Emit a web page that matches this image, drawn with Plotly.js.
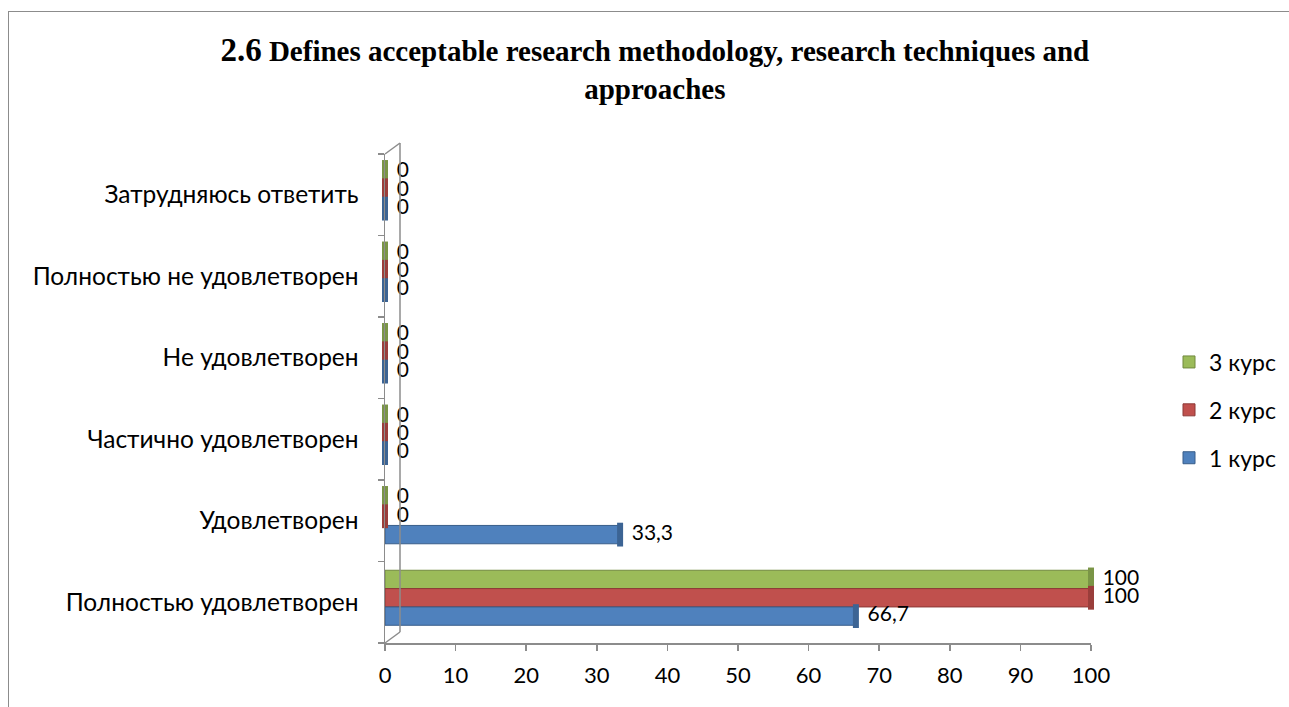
<!DOCTYPE html>
<html>
<head>
<meta charset="utf-8">
<script src="https://cdn.plot.ly/plotly-3.0.1.min.js"></script>
<style>
  html, body { margin: 0; padding: 0; background: #fff; }
  #wrap { position: relative; width: 1289px; height: 707px; overflow: hidden; }
  #plot { position: absolute; left: 0; top: 0; width: 1289px; height: 707px; }
  #frame { position: absolute; left: 8px; top: 11px; width: 1400px; height: 800px;
           border-left: 1.5px solid #8c8c8c; border-top: 1.5px solid #8c8c8c; pointer-events: none; }
</style>
</head>
<body>
<div id="wrap"><div id="plot"></div><div id="frame"></div></div>
<script>
// ---- data ----
const categories = ['Полностью удовлетворен', 'Удовлетворен', 'Частично удовлетворен',
                    'Не удовлетворен', 'Полностью не удовлетворен', 'Затрудняюсь ответить'];
const seriesNames = ['1 курс', '2 курс', '3 курс'];
const course1 = [66.7, 33.3, 0, 0, 0, 0];
const course2 = [100, 0, 0, 0, 0, 0];
const course3 = [100, 0, 0, 0, 0, 0];
const xTicks = [0, 10, 20, 30, 40, 50, 60, 70, 80, 90, 100];
const titleLead = '2.6';
const titleRest = 'Defines acceptable research methodology, research techniques and<br>approaches';

// ---- styling ----
const fills = ['#4F81BD', '#C0504D', '#9BBB59'];
const edges = ['#385D8A', '#8C3836', '#71893F'];
const caps  = ['#3C6494', '#9A3E3B', '#7A9546'];
const sansFont = 'Lato, "Open Sans", sans-serif';
const axisGray = '#8c8c8c';

// bar layout inside each category band (category units)
const barW = 0.225;
const groupShift = 0.055;

const values = [course1, course2, course3];
const fmt = v => String(v).replace('.', ',');
const catIdx = categories.map((c, k) => k);
const posFor = i => catIdx.map(k => k + (i - 1) * barW + groupShift);

const traces = [];
// legend shows 3 курс on top -> add series in reverse order
[2, 1, 0].forEach(i => {
  traces.push({
    type: 'bar', orientation: 'h', name: seriesNames[i],
    x: values[i], y: posFor(i), width: barW,
    legendgroup: 'g' + i, legendrank: 3 - i,
    marker: { color: fills[i], line: { color: edges[i], width: 1 } },
    hovertext: categories, hoverinfo: 'text+x+name'
  });
  traces.push({
    type: 'scatter', mode: 'markers+text', name: seriesNames[i], showlegend: false,
    x: values[i], y: posFor(i), legendgroup: 'g' + i,
    marker: { symbol: 'line-ns', size: 17, color: caps[i], line: { color: caps[i], width: 6 } },
    text: values[i].map(fmt), textposition: 'middle right',
    textfont: { family: sansFont, size: 21, color: '#000' },
    cliponaxis: false, hoverinfo: 'skip'
  });
});

const dx = 15 / 706, dy = 11 / 489;
const boundaries = [-0.5].concat(catIdx.map(k => k + 0.5));
const layout = {
  width: 1289, height: 707,
  margin: { l: 385, r: 198, t: 154, b: 64, autoexpand: false },
  paper_bgcolor: '#fff', plot_bgcolor: 'rgba(0,0,0,0)',
  barmode: 'overlay',
  separators: ',.',
  title: {
    text: '<b><span style="font-size:33px">' + titleLead + '</span> ' + titleRest + '</b>',
    font: { family: '"Liberation Serif", "Times New Roman", serif', size: 29, color: '#000' },
    x: 0.508, xanchor: 'center', xref: 'container',
    y: 0.914, yanchor: 'top', yref: 'container'
  },
  xaxis: {
    range: [0, 100], tickvals: xTicks, ticktext: xTicks.map(String),
    ticks: 'outside', ticklen: 6, tickcolor: axisGray, tickwidth: 1.5,
    showline: true, linecolor: axisGray, linewidth: 1.5,
    showgrid: false, zeroline: false, ticklabelstandoff: 6,
    tickfont: { family: sansFont, size: 22, color: '#000' }
  },
  yaxis: {
    range: [-0.5, categories.length - 0.5],
    tickmode: 'array', tickvals: catIdx, ticktext: categories,
    ticks: '', showline: true, linecolor: axisGray, linewidth: 1.5,
    minor: { tickmode: 'array', tickvals: boundaries, ticks: 'outside', ticklen: 6,
             tickcolor: axisGray, tickwidth: 1.5, showgrid: false },
    showgrid: false, zeroline: false, ticklabelstandoff: 20,
    tickfont: { family: sansFont, size: 24.5, color: '#000' }
  },
  legend: {
    x: 1.1105, xanchor: 'left', y: 0.4765, yanchor: 'middle',
    traceorder: 'grouped', tracegroupgap: 15,
    font: { family: sansFont, size: 23, color: '#000' },
    itemwidth: 30
  },
  shapes: [
    { type: 'line', xref: 'paper', yref: 'paper', x0: 0, y0: 1, x1: dx, y1: 1 + dy, line: { color: axisGray, width: 1.5 } },
    { type: 'line', xref: 'paper', yref: 'paper', x0: dx, y0: 1 + dy, x1: dx, y1: dy, line: { color: axisGray, width: 1.5 } },
    { type: 'line', xref: 'paper', yref: 'paper', x0: 0, y0: 0, x1: dx, y1: dy, line: { color: axisGray, width: 1.5 } }
  ],
  showlegend: true
};

Plotly.newPlot('plot', traces, layout, { displayModeBar: false, staticPlot: true });
</script>
</body>
</html>
